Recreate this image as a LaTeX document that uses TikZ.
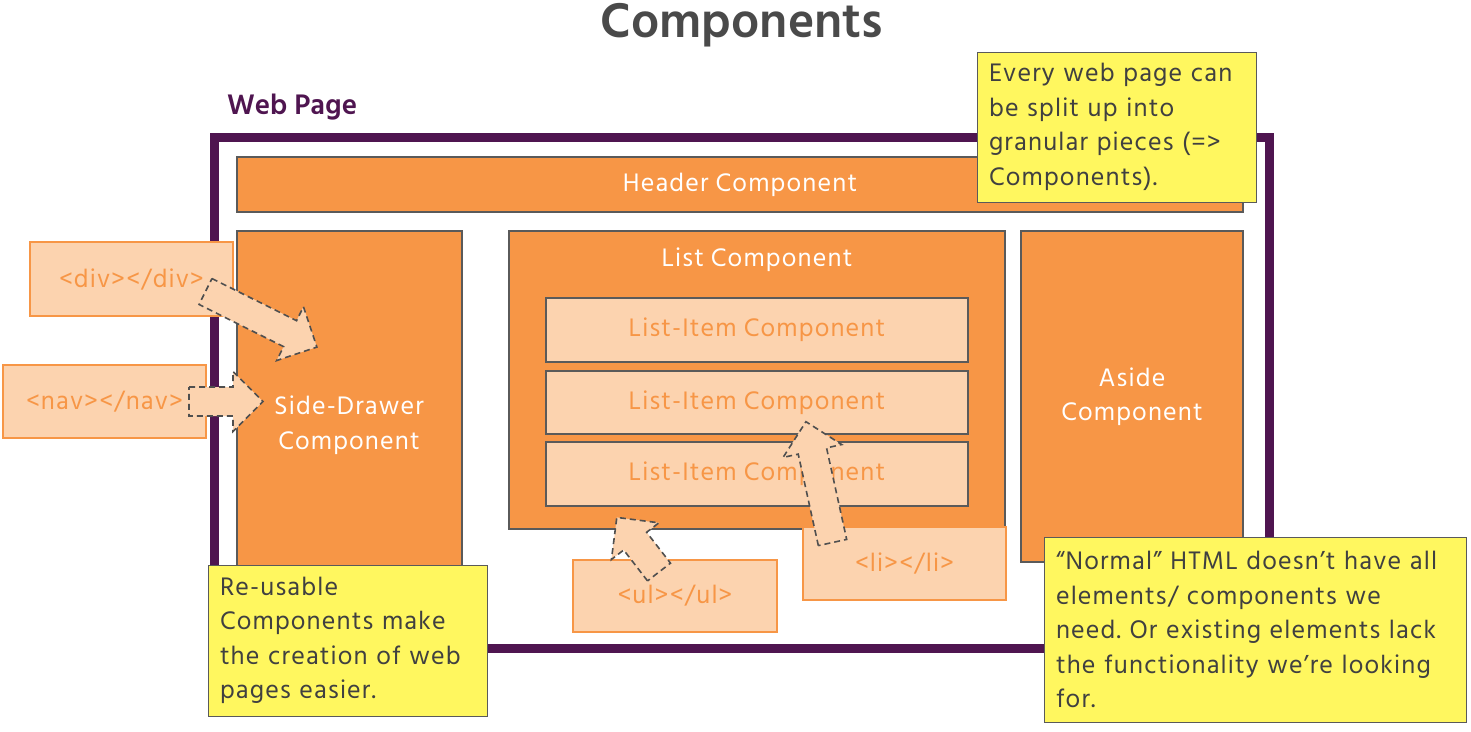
\documentclass[tikz,border=0pt]{standalone}
\usepackage{fontspec}
\setmainfont{Hind Siliguri}
\newfontfamily\bodyfont{Hind Siliguri}[LetterSpace=4.5]
\newcommand{\bodysize}{\bodyfont\fontsize{26}{34.5}\selectfont}
\frenchspacing
\definecolor{compOrange}{HTML}{F79646}
\definecolor{lightOrange}{HTML}{FCD3AF}
\definecolor{edgeGray}{HTML}{5A5A5A}
\definecolor{noteYellow}{HTML}{FFF75F}
\definecolor{noteText}{HTML}{404040}
\definecolor{framePurple}{HTML}{4F1550}
\definecolor{titleGray}{HTML}{4A4A4A}
\definecolor{arrowGray}{HTML}{4F4F4F}
\begin{document}
\begin{tikzpicture}[x=1pt,y=-1pt,
  every node/.style={inner sep=0pt, outer sep=0pt},
  comp/.style={draw=edgeGray, line width=1.5pt, fill=compOrange, text=white,
    font=\bodysize, align=center, anchor=north west},
  itembox/.style={draw=edgeGray, line width=1.5pt, fill=lightOrange, text=compOrange,
    font=\bodysize, anchor=north west},
  tagbox/.style={draw=compOrange, line width=1.5pt, fill=lightOrange, text=compOrange,
    font=\bodysize, anchor=north west},
  note/.style={draw=edgeGray, line width=1pt, fill=noteYellow, text=noteText,
    font=\bodysize\frenchspacing, align=left, anchor=north west, inner xsep=12pt},
  arrowstyle/.style={draw=arrowGray, line width=1.6pt, dash pattern=on 6pt off 4pt, fill=lightOrange},
  pics/blockarrow/.style={code={
    \draw[arrowstyle] (0,-14.5) -- ({#1-30},-14.5) -- ({#1-30},-30) -- (#1,0)
      -- ({#1-30},30) -- ({#1-30},14.5) -- (0,14.5) -- cycle;}}
]
\useasboundingbox (0,0) rectangle (1471,731);

% title
\node[text=titleGray, font=\fontsize{50}{56}\selectfont\bfseries] (title) at (742,25) {Components};
\node[text=framePurple, font=\fontsize{29}{32}\selectfont\bfseries, anchor=west] (weblabel) at (227,107) {Web Page};

% web page frame
\node[draw=framePurple, line width=9pt, minimum width=1055pt, minimum height=511pt, anchor=north west] (frame) at (214.5,137) {};

% components
\node[comp, minimum width=1006pt, minimum height=55pt] (header) at (237,157) {Header Component};
\node[comp, minimum width=225pt, minimum height=336pt] (drawer) at (237,231) {};
\node[text=white, font=\bodysize, align=center] (drawerlabel) at (349,425) {Side-Drawer\\Component};
\node[comp, minimum width=496pt, minimum height=298pt] (list) at (509,231) {};
\node[text=white, font=\bodysize] (listlabel) at (757,260) {List Component};
\node[comp, minimum width=222pt, minimum height=331pt] (aside) at (1021,231) {Aside\\Component};

\node[itembox, minimum width=422pt, minimum height=64pt] (item1) at (546,298) {List-Item Component};
\node[itembox, minimum width=422pt, minimum height=63pt] (item2) at (546,371) {List-Item Component};
\node[itembox, minimum width=422pt, minimum height=64pt] (item3) at (546,442) {List-Item Component};

% tag boxes
\node[tagbox, minimum width=203pt, minimum height=74pt] (div) at (30,242) {<div></div>};
\node[tagbox, minimum width=203pt, minimum height=73pt] (nav) at (3,365) {<nav></nav>};
\node[tagbox, minimum width=204pt, minimum height=72pt] (ul) at (573,560) {<ul></ul>};
\node[tagbox, minimum width=203pt, minimum height=73pt] (li) at (803,527) {<li></li>};

% block arrows
\pic[rotate=-26.5] at (205.5,291.5) {blockarrow=124.5};
\pic[rotate=0] at (189,401.5) {blockarrow=74};
\pic[rotate=127.7] at (659,572) {blockarrow=69};
\pic[rotate=102.4] at (832.5,542.5) {blockarrow=123.7};

% notes
\node[note, minimum width=279pt, minimum height=150pt, text width=255pt] (note1) at (977,52)
  {Every web page can\\be split up into\\granular pieces (=>\\Components).};
\node[note, minimum width=279pt, minimum height=151pt, text width=255pt] (note2) at (208,565)
  {Re-usable\\Components make\\the creation of web\\pages easier.};
\node[note, minimum width=422pt, minimum height=185pt, text width=398pt] (note3) at (1044,537)
  {“Normal” HTML doesn’t have all\\elements/ components we\\need. Or existing elements lack\\the functionality we’re looking\\for.};
\end{tikzpicture}
\end{document}
